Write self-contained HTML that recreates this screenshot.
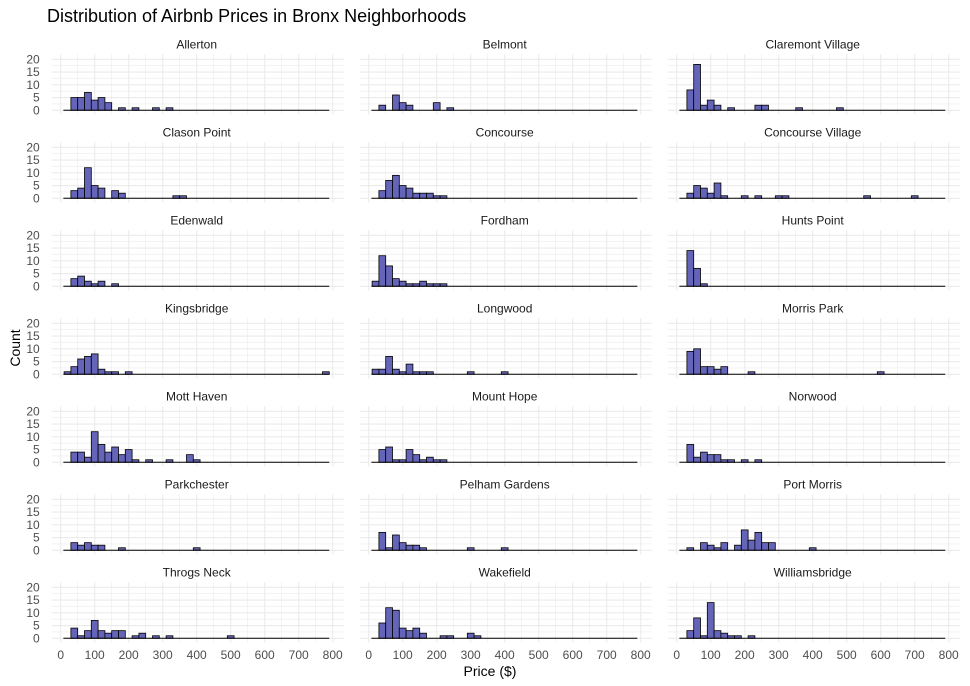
<!DOCTYPE html>
<html><head><meta charset="utf-8"><style>
body{margin:0;background:#fff;}
svg{display:block;font-family:"Liberation Sans",sans-serif;}
</style></head><body>
<svg id="chart" width="970" height="686" xmlns="http://www.w3.org/2000/svg">
<text x="47" y="22" font-size="18" fill="#000">Distribution of Airbnb Prices in Bronx Neighborhoods</text>
<text x="490" y="676" font-size="14" text-anchor="middle" fill="#000">Price ($)</text>
<text transform="translate(20,348) rotate(-90)" font-size="14" text-anchor="middle" fill="#000">Count</text>
<g id="panels"></g>
</svg>
<script>
const neighborhoods = ["Allerton","Belmont","Claremont Village","Clason Point","Concourse","Concourse Village","Edenwald","Fordham","Hunts Point","Kingsbridge","Longwood","Morris Park","Mott Haven","Mount Hope","Norwood","Parkchester","Pelham Gardens","Port Morris","Throgs Neck","Wakefield","Williamsbridge"];
const binStarts = [
[30,50,70,90,110,130,170,210,270,310],
[30,70,90,110,190,230],
[30,50,70,90,110,150,230,250,350,470],
[30,50,70,90,110,150,170,330,350],
[30,50,70,90,110,130,150,170,190,210],
[30,50,70,90,110,130,190,230,290,310,550,690],
[30,50,70,90,110,150],
[10,30,50,70,90,110,130,150,170,190,210],
[30,50,70],
[10,30,50,70,90,110,130,150,190,770],
[10,30,50,70,90,110,130,150,170,290,390],
[30,50,70,90,110,130,210,590],
[30,50,70,90,110,130,150,170,190,210,250,310,370,390],
[30,50,70,90,110,130,150,170,190,210],
[30,50,70,90,110,130,150,190,230],
[30,50,70,90,110,170,390],
[30,50,70,90,110,130,150,290,390],
[30,70,90,110,130,170,190,210,230,250,270,390],
[30,50,70,90,110,130,150,170,210,230,270,310,490],
[30,50,70,90,110,130,150,210,230,290,310],
[30,50,70,90,110,130,150,170,210]
];
const counts = [
[5,5,7,4,5,3,1,1,1,1],
[2,6,3,2,3,1],
[8,18,2,4,2,1,2,2,1,1],
[3,4,12,5,4,3,2,1,1],
[3,7,9,5,4,2,2,2,1,1],
[2,5,4,2,6,1,1,1,1,1,1,1],
[3,4,2,1,2,1],
[2,12,8,3,2,1,1,2,1,1,1],
[14,7,1],
[1,3,6,7,8,2,1,1,1,1],
[2,2,7,2,1,4,1,1,1,1,1],
[9,10,3,3,2,3,1,1],
[4,4,2,12,7,4,6,3,5,1,1,1,3,1],
[5,6,1,1,5,3,1,2,1,1],
[7,2,4,3,3,1,1,1,1],
[3,2,3,2,2,1,1],
[7,1,6,3,2,2,1,1,1],
[1,3,2,1,3,2,8,4,7,3,3,1],
[4,1,3,7,3,2,3,3,1,2,1,1,1],
[6,12,11,4,3,4,2,1,1,2,1],
[3,8,1,14,3,2,1,1,1]
];
const binWidth = 20;
const xTicks = [0,100,200,300,400,500,600,700,800];
const yTicks = [0,5,10,15,20];

const NS="http://www.w3.org/2000/svg";
const g=document.getElementById('panels');
const colX0=[60.7,368.7,676.7];
const pxPerDollar=0.34;
const pxPerCount=2.55;
function mk(t,a){const e=document.createElementNS(NS,t);for(const k in a)e.setAttribute(k,a[k]);return e;}
neighborhoods.forEach((name,i)=>{
  const c=i%3, r=Math.floor(i/3);
  const x0=colX0[c], base=110.3+88*r;
  const xs=v=>x0+v*pxPerDollar;
  const ys=v=>base-v*pxPerCount;
  const pg=mk('g',{});
  
  
  g.appendChild(pg);
  const left=x0-9, right=x0+283, top=base-56, bottom=base+4;
  for(let v=50; v<800; v+=100){const l=mk('line',{x1:xs(v),x2:xs(v),y1:top,y2:bottom,stroke:'#ebebeb','stroke-width':0.6});pg.appendChild(l);}
  for(let v=2.5; v<22; v+=5){const l=mk('line',{x1:left,x2:right,y1:ys(v),y2:ys(v),stroke:'#ebebeb','stroke-width':0.6});pg.appendChild(l);}
  xTicks.forEach(v=>{const l=mk('line',{x1:xs(v),x2:xs(v),y1:top,y2:bottom,stroke:'#ebebeb','stroke-width':1.1});pg.appendChild(l);});
  yTicks.forEach(v=>{const l=mk('line',{x1:left,x2:right,y1:ys(v),y2:ys(v),stroke:'#ebebeb','stroke-width':1.1});pg.appendChild(l);});
  const st=mk('text',{x:x0+136,y:base-62,'font-size':12,'text-anchor':'middle',fill:'#1a1a1a'});
  st.textContent=name;
  
  
  pg.appendChild(st);
  if(c===0){
    yTicks.forEach(v=>{const t=mk('text',{x:x0-21,y:ys(v)+4,'font-size':12,'text-anchor':'end',fill:'#4d4d4d'});t.textContent=v;
      
      
      pg.appendChild(t);});
  }
  if(r===6){
    xTicks.forEach(v=>{const t=mk('text',{x:xs(v),y:659,'font-size':12,'text-anchor':'middle',fill:'#4d4d4d'});t.textContent=v;
      
      
      pg.appendChild(t);});
  }
  binStarts[i].forEach((b,j)=>{
    const h=counts[i][j];
    const rc=mk('rect',{x:xs(b),y:ys(h),width:binWidth*pxPerDollar,height:h*pxPerCount,fill:'#6464b8',stroke:'#000','stroke-width':0.8});
    
    
    pg.appendChild(rc);
  });
  const ax=mk('line',{x1:xs(8),x2:xs(790),y1:base,y2:base,stroke:'#000','stroke-width':1});
  
  
  pg.appendChild(ax);
});
</script>
</body></html>
